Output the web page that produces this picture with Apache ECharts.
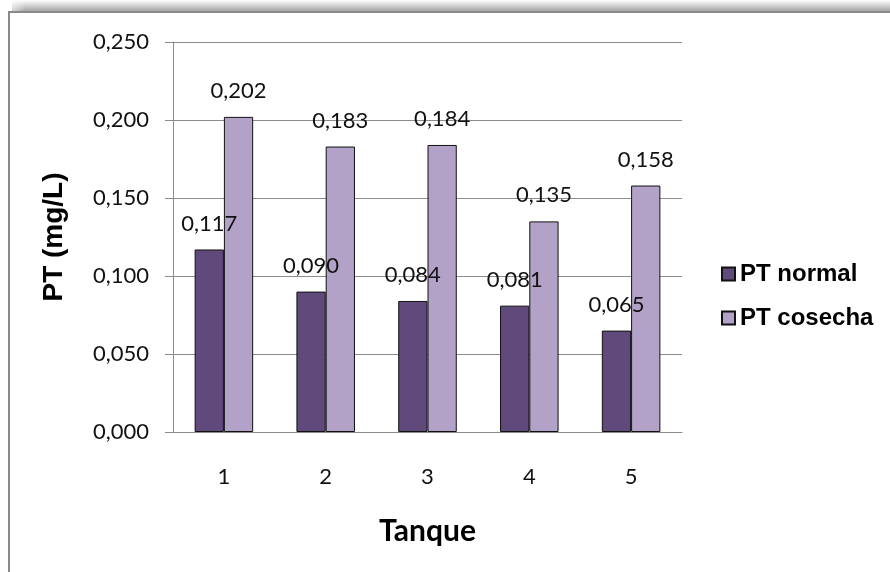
<!DOCTYPE html>
<html>
<head>
<meta charset="utf-8">
<script src="https://cdn.jsdelivr.net/npm/echarts@6/dist/echarts.min.js"></script>
<style>
  html, body { margin: 0; padding: 0; background: #fff; }
  #chart { width: 890px; height: 572px; }
</style>
</head>
<body>
<div id="chart"></div>
<script>
// Tanks and phosphorus readings (mg/L)
const tanques = ['1', '2', '3', '4', '5'];
const ptNormal = [0.117, 0.090, 0.084, 0.081, 0.065];
const ptCosecha = [0.202, 0.183, 0.184, 0.135, 0.158];
const seriesNames = ['PT normal', 'PT cosecha'];

const fmt = v => v.toFixed(3).replace('.', ',');
const numFont = 'Lato, "Open Sans", sans-serif';

const chart = echarts.init(document.getElementById('chart'));

const barLabel = {
  show: true,
  position: 'top',
  distance: 15,
  fontFamily: numFont,
  fontSize: 22,
  color: '#111',
  formatter: p => fmt(p.value)
};

chart.setOption({
  backgroundColor: '#fff',
  animation: false,
  graphic: [
    // soft shadow above the frame
    {
      type: 'rect',
      shape: { x: 12, y: 0, width: 878, height: 12 },
      style: {
        fill: {
          type: 'linear', x: 0, y: 0, x2: 0, y2: 1,
          colorStops: [
            { offset: 0, color: 'rgba(140,140,140,0)' },
            { offset: 1, color: 'rgba(140,140,140,0.85)' }
          ]
        }
      },
      silent: true
    },
    {
      type: 'rect',
      shape: { x: 0, y: 0, width: 26, height: 12 },
      style: {
        fill: {
          type: 'linear', x: 0, y: 0, x2: 1, y2: 0,
          colorStops: [
            { offset: 0, color: 'rgba(255,255,255,1)' },
            { offset: 1, color: 'rgba(255,255,255,0)' }
          ]
        }
      },
      silent: true
    },
    // chart frame
    {
      type: 'polyline',
      shape: { points: [[9, 572], [9, 12], [890, 12]] },
      style: { stroke: '#8a8a8a', lineWidth: 2, fill: null },
      silent: true
    }
  ],
  grid: { left: 173, right: 208, top: 42, bottom: 140 },
  legend: {
    orient: 'vertical',
    left: 716,
    top: 257,
    itemWidth: 13,
    itemHeight: 13,
    itemGap: 20,
    icon: 'rect',
    data: seriesNames,
    textStyle: {
      fontFamily: '"Liberation Sans", Arial, sans-serif',
      fontWeight: 'bold',
      fontSize: 24,
      color: '#000'
    }
  },
  xAxis: {
    type: 'category',
    data: tanques,
    name: 'Tanque',
    nameLocation: 'middle',
    nameGap: 84,
    nameTextStyle: {
      fontFamily: numFont,
      fontWeight: 'bold',
      fontSize: 30,
      color: '#000'
    },
    axisTick: { show: false },
    axisLine: { lineStyle: { color: '#8c8c8c', width: 1 } },
    axisLabel: {
      margin: 34,
      fontFamily: numFont,
      fontSize: 22,
      color: '#111'
    }
  },
  yAxis: {
    type: 'value',
    min: 0,
    max: 0.25,
    interval: 0.05,
    name: 'PT (mg/L)',
    nameLocation: 'middle',
    nameRotate: 90,
    nameGap: 105,
    nameTextStyle: {
      fontFamily: '"Liberation Sans", Arial, sans-serif',
      fontWeight: 'bold',
      fontSize: 28,
      color: '#000'
    },
    axisLine: { show: true, lineStyle: { color: '#8c8c8c', width: 1 } },
    axisTick: { show: true, length: 8, lineStyle: { color: '#8c8c8c' } },
    splitLine: { lineStyle: { color: '#8c8c8c', width: 1 } },
    axisLabel: {
      margin: 24,
      fontFamily: numFont,
      fontSize: 22,
      color: '#111',
      formatter: fmt
    }
  },
  series: [
    {
      name: seriesNames[0],
      type: 'bar',
      data: ptNormal,
      barGap: '0%',
      barCategoryGap: '42.5%',
      itemStyle: { color: '#604a7b', borderColor: '#111', borderWidth: 1 },
      label: barLabel
    },
    {
      name: seriesNames[1],
      type: 'bar',
      data: ptCosecha,
      barGap: '0%',
      barCategoryGap: '42.5%',
      itemStyle: { color: '#b3a2c7', borderColor: '#111', borderWidth: 1 },
      label: barLabel
    }
  ]
});
</script>
</body>
</html>
